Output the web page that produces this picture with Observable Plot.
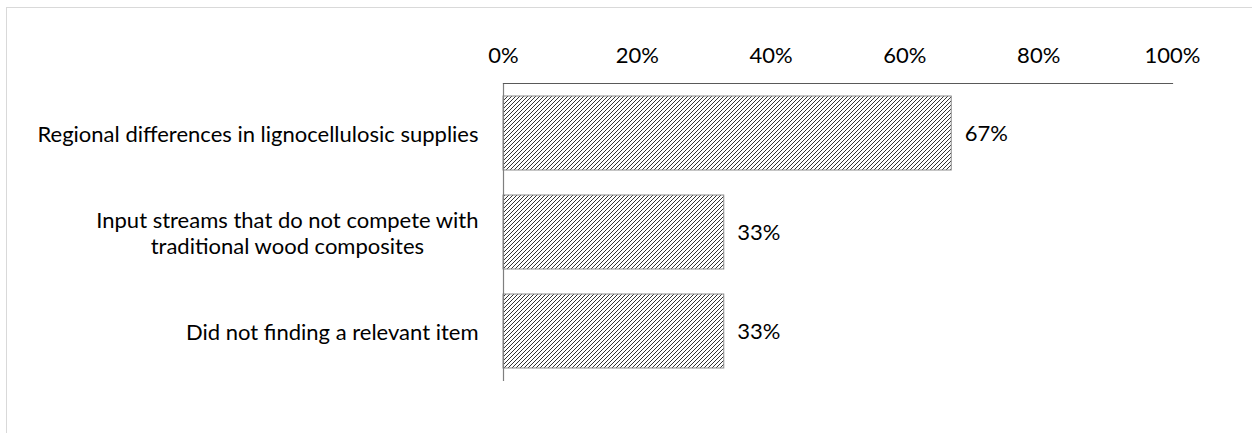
<!DOCTYPE html>
<html>
<head>
<meta charset="utf-8">
<script src="https://cdn.jsdelivr.net/npm/d3@7"></script>
<script src="https://cdn.jsdelivr.net/npm/@observablehq/plot@0.6"></script>
<style>
  html, body { margin: 0; padding: 0; background: #fff; overflow: hidden; }
  #frame { position: absolute; left: 6px; top: 7px; width: 1260px; height: 440px; border: 1px solid #d9d9d9; box-sizing: border-box; }
  #chart { position: absolute; left: 0; top: 0; }
  svg { font-family: Lato, "Open Sans", sans-serif; }
</style>
</head>
<body>
<div id="frame"></div>
<div id="chart"></div>
<script>
const categories = [
  "Regional differences in lignocellulosic supplies",
  "Input streams that do not compete with\ntraditional wood composites",
  "Did not finding a relevant item"
];
const values = [0.67, 0.33, 0.33];
const xTicks = [0, 0.2, 0.4, 0.6, 0.8, 1.0];

const data = categories.map((c, i) => ({category: c, value: values[i]}));
const FS = 22;

const plot = Plot.plot({
  width: 1252,
  height: 433,
  marginLeft: 503,
  marginRight: 80,
  marginTop: 83,
  marginBottom: 52,
  style: {fontSize: FS + "px", color: "#000", background: "transparent"},
  x: {domain: [0, 1], ticks: xTicks, tickFormat: d3.format(".0%")},
  y: {domain: categories, paddingInner: 0.25, paddingOuter: 0.125},
  marks: [
    Plot.axisX({anchor: "top", ticks: xTicks, tickSize: 0, tickPadding: 21, tickFormat: d3.format(".0%"), fontSize: FS, fill: "#000", label: null}),
    Plot.axisY({tickSize: 0, tickPadding: 25, fontSize: FS, fill: "#000", label: null, lineHeight: 1.2}),
    Plot.barX(data, {x: "value", y: "category", fill: "url(#hatch)", stroke: "#8c8c8c", strokeWidth: 1}),
    Plot.text(data, {x: "value", y: "category", text: d => d3.format(".0%")(d.value), textAnchor: "start", dx: 13, fontSize: FS, fill: "#000"}),
    Plot.ruleX([0], {stroke: "#7f7f7f", strokeWidth: 1.2}),
    Plot.frame({anchor: "top", stroke: "#595959", strokeWidth: 1.2})
  ]
});

// hatch pattern definition
const ns = "http://www.w3.org/2000/svg";
const defs = document.createElementNS(ns, "defs");
defs.innerHTML = `<pattern id="hatch" patternUnits="userSpaceOnUse" width="4" height="4">
  <rect width="4" height="4" fill="#fff"/>
  <path d="M-1,1 l2,-2 M0,4 l4,-4 M3,5 l2,-2" stroke="#333" stroke-width="1"/>
</pattern>`;
plot.insertBefore(defs, plot.firstChild);

document.getElementById("chart").appendChild(plot);

// center multi-line y tick labels (as in the original)
plot.querySelectorAll("g[aria-label='y-axis tick label'] text").forEach(t => {
  const spans = t.querySelectorAll("tspan");
  if (spans.length > 1) {
    let w = 0;
    spans.forEach(s => { w = Math.max(w, s.getComputedTextLength()); });
    t.setAttribute("text-anchor", "middle");
    spans.forEach(s => s.setAttribute("x", String(-w / 2)));
  }
});
</script>
</body>
</html>
